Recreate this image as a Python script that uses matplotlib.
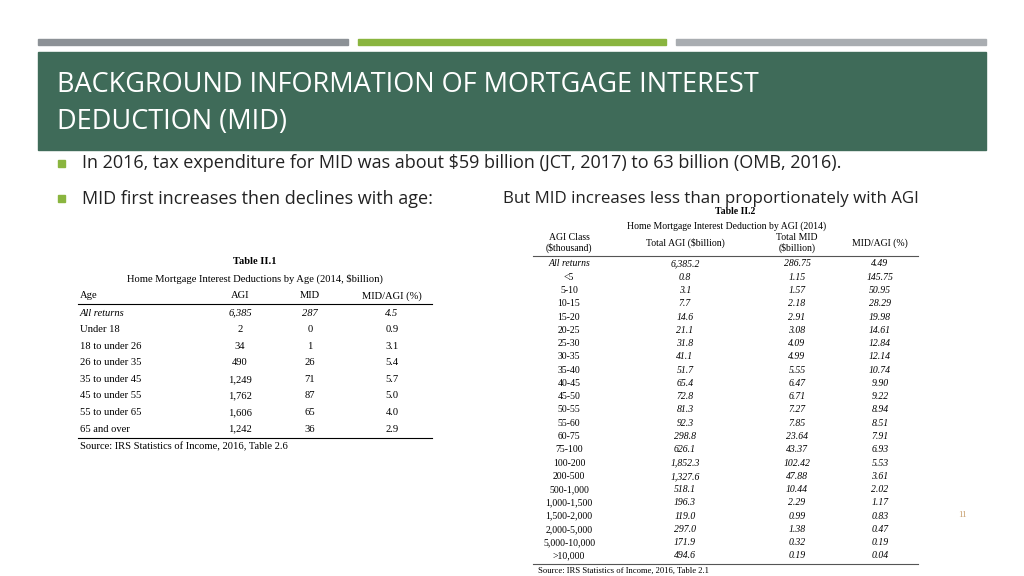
import matplotlib.pyplot as plt
from matplotlib.patches import Rectangle

# Table II.1 data
age_groups = ["All returns", "Under 18", "18 to under 26", "26 to under 35", "35 to under 45",
              "45 to under 55", "55 to under 65", "65 and over"]
age_agi = ["6,385", "2", "34", "490", "1,249", "1,762", "1,606", "1,242"]
age_mid = ["287", "0", "1", "26", "71", "87", "65", "36"]
age_ratio = ["4.5", "0.9", "3.1", "5.4", "5.7", "5.0", "4.0", "2.9"]

# Table II.2 data
agi_class = ["All returns", "<5", "5-10", "10-15", "15-20", "20-25", "25-30", "30-35", "35-40",
             "40-45", "45-50", "50-55", "55-60", "60-75", "75-100", "100-200", "200-500",
             "500-1,000", "1,000-1,500", "1,500-2,000", "2,000-5,000", "5,000-10,000", ">10,000"]
total_agi = ["6,385.2", "0.8", "3.1", "7.7", "14.6", "21.1", "31.8", "41.1", "51.7", "65.4",
             "72.8", "81.3", "92.3", "298.8", "626.1", "1,852.3", "1,327.6", "518.1", "196.3",
             "119.0", "297.0", "171.9", "494.6"]
total_mid = ["286.75", "1.15", "1.57", "2.18", "2.91", "3.08", "4.09", "4.99", "5.55", "6.47",
             "6.71", "7.27", "7.85", "23.64", "43.37", "102.42", "47.88", "10.44", "2.29",
             "0.99", "1.38", "0.32", "0.19"]
mid_agi = ["4.49", "145.75", "50.95", "28.29", "19.98", "14.61", "12.84", "12.14", "10.74", "9.90",
           "9.22", "8.94", "8.51", "7.91", "6.93", "5.53", "3.61", "2.02", "1.17", "0.83",
           "0.47", "0.19", "0.04"]

fig = plt.figure(figsize=(10.24, 5.76), dpi=100)
ax = fig.add_axes([0, 0, 1, 1])
ax.set_xlim(0, 1024)
ax.set_ylim(576, 0)
ax.axis("off")

# header bars
ax.add_patch(Rectangle((38, 39), 310, 6, color="#8c9196"))
ax.add_patch(Rectangle((358, 39), 308, 6, color="#8ab53f"))
ax.add_patch(Rectangle((676, 39), 310, 6, color="#a9adb1"))
ax.add_patch(Rectangle((38, 52), 948, 98, color="#3f6b59"))
ax.text(57, 85, "BACKGROUND INFORMATION OF MORTGAGE INTEREST", color="white",
        fontsize=19.5, family="Open Sans", va="center")
ax.text(57, 122, "DEDUCTION (MID)", color="white", fontsize=19.5, family="Open Sans", va="center")

sans = dict(family="Open Sans", fontsize=13, va="center", color="#222222")
for y in (164, 199):
    ax.add_patch(Rectangle((58, y - 4), 7, 7, color="#8ab53f"))
ax.text(82, 163, "In 2016, tax expenditure for MID was about $59 billion (JCT, 2017) to 63 billion (OMB, 2016).", **sans)
ax.text(82, 199, "MID first increases then declines with age:", **sans)
ax.text(503, 199, "But MID increases less than proportionately with AGI", **dict(sans, fontsize=12.2))

serif = dict(family="Liberation Serif", fontsize=7.6, va="center", color="black")

# Table II.1
ax.text(255, 262, "Table II.1", fontweight="bold", ha="center", **serif)
ax.text(255, 279, "Home Mortgage Interest Deductions by Age (2014, $billion)", ha="center", **serif)
ax.text(80, 296, "Age", **serif)
ax.text(240, 296, "AGI", ha="center", **serif)
ax.text(310, 296, "MID", ha="center", **serif)
ax.text(392, 296, "MID/AGI (%)", ha="center", **serif)
ax.plot([78, 432], [304, 304], color="black", lw=0.8)
row_h = 16.6
for i, name in enumerate(age_groups):
    y = 313 + i * row_h
    style = "italic" if i == 0 else "normal"
    ax.text(80, y, name, style=style, **serif)
    ax.text(240, y, age_agi[i], ha="center", style=style, **serif)
    ax.text(310, y, age_mid[i], ha="center", style=style, **serif)
    ax.text(392, y, age_ratio[i], ha="center", style=style, **serif)
ax.plot([78, 432], [438, 438], color="black", lw=0.8)
ax.text(80, 447, "Source: IRS Statistics of Income, 2016, Table 2.6", **serif)

# Table II.2
s2 = dict(serif, fontsize=7.0)
ax.text(735, 211, "Table II.2", fontweight="bold", ha="center", **s2)
ax.text(727, 226, "Home Mortgage Interest Deduction by AGI (2014)", ha="center", **s2)
ax.text(569, 243, "AGI Class\n($thousand)", ha="center", linespacing=1.1, **s2)
ax.text(685, 243, "Total AGI ($billion)", ha="center", **s2)
ax.text(797, 243, "Total MID\n($billion)", ha="center", linespacing=1.1, **s2)
ax.text(880, 243, "MID/AGI (%)", ha="center", **s2)
ax.plot([533, 918], [256, 256], color="#555555", lw=0.8)
row_h2 = 13.27
for i, name in enumerate(agi_class):
    y = 264 + i * row_h2
    ax.text(569, y, name, ha="center", style="italic" if i == 0 else "normal", **s2)
    ax.text(685, y, total_agi[i], ha="center", style="italic", **s2)
    ax.text(797, y, total_mid[i], ha="center", style="italic", **s2)
    ax.text(880, y, mid_agi[i], ha="center", style="italic", **s2)
ax.plot([533, 918], [564, 564], color="#555555", lw=0.8)
ax.text(538, 571, "Source: IRS Statistics of Income, 2016, Table 2.1", **dict(s2, fontsize=6.2))

ax.text(958, 515, "11", color="#c8a070", fontsize=6.5, family="Liberation Serif", va="center")

fig.savefig("out.png", dpi=100)
